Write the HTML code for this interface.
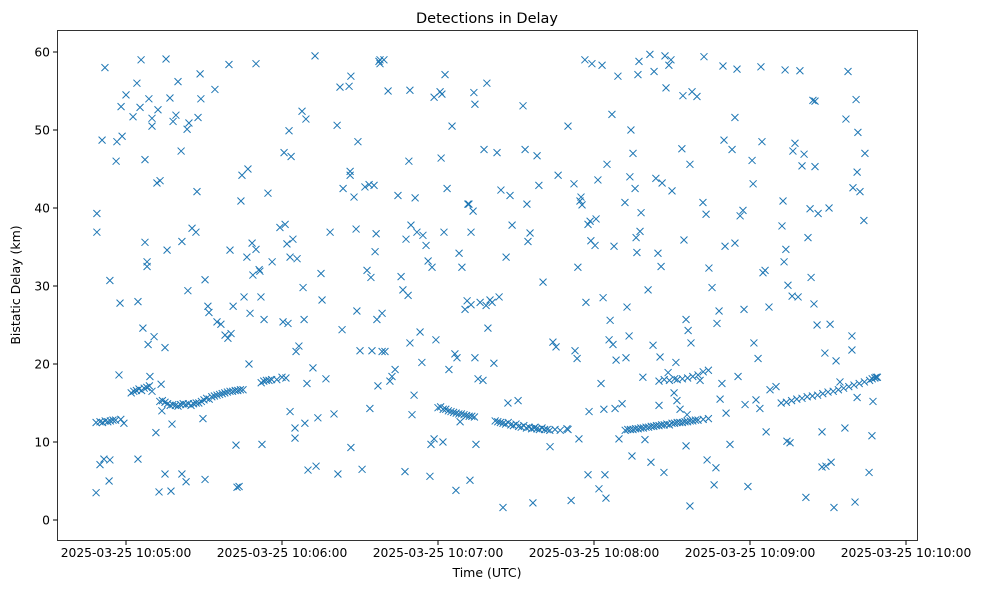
<!DOCTYPE html>
<html><head><meta charset="utf-8"><style>
body{margin:0;background:#fff;}
svg{display:block;font-family:"DejaVu Sans","Liberation Sans",sans-serif;}
</style></head><body>
<svg id="chart" width="988" height="590" xmlns="http://www.w3.org/2000/svg">
<rect width="988" height="590" fill="#fff"/>
<text x="487" y="23" text-anchor="middle" font-size="14.5">Detections in Delay</text>
<text x="487" y="577" text-anchor="middle" font-size="12.5">Time (UTC)</text>
<text transform="translate(20,285) rotate(-90)" text-anchor="middle" font-size="12.5">Bistatic Delay (km)</text>
<g id="marks"></g>
<g id="axes"></g>
<rect x="57.5" y="30.5" width="860" height="510" fill="none" stroke="#000" stroke-width="0.8"/>
</svg>
<script>
// seconds after 10:04:00 UTC
const scatterTimes = [48.5,48.8,48.8,50.8,51.9,50,51.5,53.8,53.5,53.8,56.2,56.5,57.3,57.7,58.1,58.5,59.2,60,62.7,64.2,64.6,64.6,65.4,65.8,66.5,67.3,67.3,68.1,68.1,68.5,68.8,69.2,70,70,70.8,71.5,71.9,72.3,72.7,73.1,73.5,73.8,75,75,75.4,75.8,76.9,77.3,77.7,78.1,79.2,80,81.2,81.5,81.5,83.1,83.5,83.8,84.2,85.4,86.9,87.3,87.7,88.5,88.8,89.6,90.4,90.4,91.5,91.9,94.2,95,96.5,98.1,99.2,99.6,100,100.4,101.2,102.3,102.7,103.5,104.2,104.6,105.4,106.5,106.9,107.3,107.7,108.5,108.8,110,110,111.2,111.5,111.9,112.3,113.1,114.6,116.2,119.2,120.4,120.8,121.2,121.5,121.9,122.3,122.7,123.1,123.1,123.5,124.2,125,125,125.4,125.8,126.5,127.7,128.1,128.5,128.8,129.2,129.6,130,131.9,132.7,133.1,133.8,135,135.4,136.9,138.5,140,141.2,141.5,142.3,143.1,143.5,145.8,146.2,146.2,146.5,146.5,147.7,148.5,148.8,149.2,150,150.8,151.9,152.7,153.5,153.8,154.2,154.6,155.4,155.8,156.2,156.5,156.9,157.3,157.7,157.7,158.5,158.5,159.2,159.6,160.8,161.5,162.3,163.5,164.6,165.8,166.5,167.3,167.7,168.5,168.8,169.2,169.2,169.6,170,170.8,171.2,171.9,173.1,173.8,174.2,175.4,176.2,176.9,177.3,177.7,178.5,178.5,179.2,180,180.8,181.2,181.5,181.9,182.3,182.7,183.5,184.2,185.4,186.5,186.9,187.3,188.1,188.5,189.2,190.4,191.2,191.5,191.9,192.3,192.7,192.7,193.5,193.8,194.2,194.2,194.6,195.4,196.2,197.3,197.7,198.5,198.8,199.2,200,200.8,201.5,202.7,203.5,204.2,205,206.2,206.9,207.7,208.5,210.8,212.7,213.5,214.2,214.6,215.4,216.5,217.3,218.1,218.8,220.4,223.1,224.2,225.4,226.2,229.6,230,231.2,232.3,232.7,233.5,233.8,234.2,234.6,235,235.4,236.5,236.9,237.7,237.7,238.1,238.5,238.8,239.2,240.4,240.8,241.5,241.9,242.7,243.1,243.5,243.8,244.2,244.6,245,245.8,246.2,246.9,247.3,247.7,248.1,248.5,249.2,249.6,250.8,251.9,252.3,252.7,253.5,253.8,254.2,254.6,255,255.8,256.2,256.5,256.9,257.3,257.7,258.1,258.8,259.6,260.8,261.5,261.9,262.7,263.1,263.8,264.6,265,265.4,265.8,266.2,266.9,267.3,267.7,268.5,268.8,269.6,270,270.8,271.5,271.9,273.1,273.8,274.2,274.6,275.4,275.4,275.8,276.2,276.9,276.9,277.3,277.7,279.6,280.8,281.9,282.3,283.1,283.5,284.2,285.4,286.2,286.9,287.3,288.1,288.5,289.2,289.6,290,290.4,290.8,292.3,293.1,294.2,294.2,295,295.4,296.2,297.3,297.7,298.1,299.2,300.8,301.2,301.5,302.3,303.1,303.8,304.2,304.6,305,305.8,306.2,307.3,307.7,310,312.3,312.7,313.1,313.5,313.8,314.2,314.6,315.4,316.2,316.5,317.3,318.5,319.2,320,320.8,321.5,322.3,323.1,323.5,324.2,324.6,325,325,325.8,326.2,327.7,327.7,328.8,329.2,330.4,330.8,331.2,332.3,333.1,334.6,336.5,336.9,337.7,339.2,339.2,339.6,340.4,340.8,341.2,341.2,341.5,342.3,343.8,344.2,345.8,346.9,347.3,348.5];
const scatterDelays = [3.5,39.3,36.9,48.7,58,7.1,7.8,7.7,5,30.7,46,48.5,18.6,27.8,53,49.2,12.4,54.5,51.7,56,28,7.8,52.9,59,24.6,35.6,46.2,33.1,32.5,22.5,54,18.4,51.5,50.5,23.5,11.2,43.2,52.6,3.6,43.5,17.4,14,5.9,22.1,59.1,34.6,54.1,3.7,12.3,51.1,51.9,56.2,47.3,35.7,5.9,4.9,50.1,29.4,50.9,37.4,36.9,42.1,51.6,57.2,54,13,5.2,30.8,27.4,26.6,55.2,25.4,25.1,23.7,23.3,58.4,34.6,23.9,27.4,9.6,4.2,4.3,40.9,44.2,28.6,33.7,45,20,26.5,35.5,31.4,58.5,34.7,32.1,31.9,28.6,9.7,25.7,41.9,33.1,37.5,25.4,47.1,37.9,18.2,35.4,25.2,49.9,13.9,33.7,46.6,36,10.5,11.8,21.6,33.5,22.3,52.4,29.8,25.7,12.4,51.4,17.5,6.4,19.5,59.5,6.9,13.1,31.6,28.2,18.1,36.9,13.6,50.6,5.9,55.5,24.4,42.5,55.6,44.7,44.2,9.3,56.9,41.4,37.3,26.8,48.5,21.7,6.5,42.7,32,43,14.3,31.1,21.7,42.9,34.4,36.7,25.7,17.2,58.8,59,58.5,21.6,26.5,59,21.6,55,17.8,18.4,19.3,41.6,31.2,29.5,6.2,36,28.8,46,55.1,22.7,37.8,13.5,16,41.3,36.9,24.1,20.2,36.5,35.2,33.2,5.6,9.7,32.4,10.4,54.2,23.1,14.4,54.9,46.4,54.6,10,36.9,57.1,42.5,19.3,50.5,21.3,3.8,20.8,34.2,12.6,32.4,27,28.1,40.5,40.5,5.1,36.9,27.6,39.6,54.8,53.3,20.8,9.7,18.1,27.9,17.9,47.5,27.5,56,24.6,28.2,27.9,20.1,47.1,28.6,42.3,1.6,33.7,15,41.6,37.8,15.3,53.1,47.5,40.5,35.7,36.8,2.2,11.9,46.7,42.9,30.5,9.4,22.8,22.2,44.2,11.7,50.5,2.5,43.1,21.7,20.7,32.4,10.4,40.9,41.4,40.4,59,27.9,37.9,5.8,13.9,38.3,35.8,58.5,35.2,38.6,43.6,4,17.5,58.3,28.5,14.2,5.8,2.8,45.6,23.1,25.6,52,22.5,35.1,14.3,20.5,56.9,10.4,14.9,40.7,20.8,27.3,23.6,44,50,8.2,47,42.5,36.2,34.3,57.1,58.8,37,39.4,18.3,10.3,29.5,59.7,7.4,22.4,57.5,43.8,34.2,14.7,20.9,32.5,43.2,6.1,59.5,55.4,18.9,58.3,59,42.2,16.3,20.2,15.3,14.2,47.6,54.4,35.9,25.7,9.5,13.5,24.3,1.8,45.6,22.7,54.9,54.3,17.9,40.7,59.4,39.2,7.7,32.3,29.8,4.5,6.7,25.2,26.8,15.5,17.5,58.2,48.7,35.1,13.7,9.7,47.5,35.5,51.6,57.8,18.4,39,39.7,27,14.8,4.3,46.1,43.1,22.7,15.4,20.7,14.3,58.1,48.5,31.7,32,11.3,27.3,16.7,17.1,37.7,40.9,33.1,57.7,34.7,10.1,30.1,9.9,28.7,47.3,48.3,28.6,57.6,45.4,46.9,2.9,36.2,39.9,31.1,53.8,27.7,45.3,53.7,25,39.3,6.8,11.3,21.4,6.9,40,25.1,7.4,1.6,20.4,17.7,11.8,51.4,57.5,21.8,23.6,42.6,2.3,53.9,15.7,44.6,49.7,42.1,38.4,47,6.1,10.8,15.2,18.3,0.8];
const trackTimes = [48.5,50,51,52,53,54,55,56,58,62,63,64,65,66,67,68,69,70,73,74,75,76,77,78,79,80,81,82,83,84,85,86,87,88,89,90,91,92,93,94,95,96,97,98,99,100,101,102,103,104,105,112,113,114,115,116,118,120,181,182,183,184,185,186,187,188,189,190,191,192,193,194,202,203,204,205,206,207,208,209,210,211,212,213,214,215,216,217,218,219,220,221,222,223,225,227,230,252,253,254,255,256,257,258,259,260,261,262,263,264,265,266,267,268,269,270,271,272,273,274,275,276,277,278,279,280,282,284,265,267,269,271,272,274,276,278,280,282,284,312,314,316,318,320,322,324,326,328,330,332,334,336,338,340,342,344,346,347,348,349];
const trackDelays = [12.5,12.6,12.5,12.7,12.6,12.7,12.8,12.8,12.9,16.3,16.5,16.6,16.8,16.6,16.9,17.0,17.2,16.5,15.2,15.3,15.1,14.9,14.7,14.8,14.7,14.6,14.8,14.9,14.8,14.9,14.7,14.9,15.0,15,15.2,15.4,15.6,15.5,15.8,15.9,16,16.1,16.2,16.3,16.4,16.5,16.5,16.6,16.6,16.7,16.7,17.6,17.8,17.9,17.9,18,18,18.3,14.5,14.2,14.2,14.0,13.9,13.8,13.7,13.6,13.6,13.5,13.4,13.3,13.3,13.2,12.7,12.6,12.5,12.4,12.3,12.5,12.2,12.1,12.3,12.0,11.9,12.1,11.8,11.9,11.7,11.8,11.7,11.6,11.8,11.6,11.6,11.5,11.6,11.5,11.6,11.5,11.6,11.6,11.6,11.7,11.7,11.8,11.8,11.9,11.9,12,12,12.1,12.1,12.2,12.2,12.3,12.2,12.4,12.4,12.5,12.5,12.5,12.6,12.6,12.7,12.7,12.8,12.8,12.9,13,17.8,18.0,17.9,18.1,18.0,18.1,18.2,18.4,18.6,19,19.2,15,15.1,15.3,15.5,15.6,15.8,15.9,16,16.2,16.4,16.5,16.7,16.9,17.1,17.3,17.5,17.7,17.9,18.1,18.2,18.3];
const xTickSeconds = [60,120,180,240,300,360];
const xTickLabels = ["2025-03-25 10:05:00","2025-03-25 10:06:00","2025-03-25 10:07:00","2025-03-25 10:08:00","2025-03-25 10:09:00","2025-03-25 10:10:00"];
const yTicks = [0,10,20,30,40,50,60];

const NS="http://www.w3.org/2000/svg";
function xs(t){return 126+(t-60)*2.6;}
function ys(v){return 520-v*7.8;}
const marks=document.getElementById('marks');
function cross(t,v){
  const x=xs(t),y=ys(v),r=3.5;
  const p=document.createElementNS(NS,'path');
  p.setAttribute('d',`M${x-r},${y-r}L${x+r},${y+r}M${x-r},${y+r}L${x+r},${y-r}`);
  p.setAttribute('stroke','#1f77b4');p.setAttribute('stroke-width','1');p.setAttribute('fill','none');
  
  
  marks.appendChild(p);
}
scatterTimes.forEach((t,i)=>cross(t,scatterDelays[i]));
trackTimes.forEach((t,i)=>cross(t,trackDelays[i]));
const axes=document.getElementById('axes');
xTickSeconds.forEach((t,i)=>{
  const x=xs(t);
  const l=document.createElementNS(NS,'line');
  l.setAttribute('x1',x);l.setAttribute('x2',x);l.setAttribute('y1',540.5);l.setAttribute('y2',545);l.setAttribute('stroke','#000');
  
  
  axes.appendChild(l);
  const tx=document.createElementNS(NS,'text');
  tx.setAttribute('x',x);tx.setAttribute('y',557);tx.setAttribute('text-anchor','middle');tx.setAttribute('font-size','12.3');
  tx.textContent=xTickLabels[i];
  
  
  axes.appendChild(tx);
});
yTicks.forEach(v=>{
  const y=ys(v);
  const l=document.createElementNS(NS,'line');
  l.setAttribute('x1',53);l.setAttribute('x2',57.5);l.setAttribute('y1',y);l.setAttribute('y2',y);l.setAttribute('stroke','#000');
  
  
  axes.appendChild(l);
  const tx=document.createElementNS(NS,'text');
  tx.setAttribute('x',50);tx.setAttribute('y',y+4.5);tx.setAttribute('text-anchor','end');tx.setAttribute('font-size','12.3');
  tx.textContent=v;
  
  
  axes.appendChild(tx);
});
</script>
</body></html>
